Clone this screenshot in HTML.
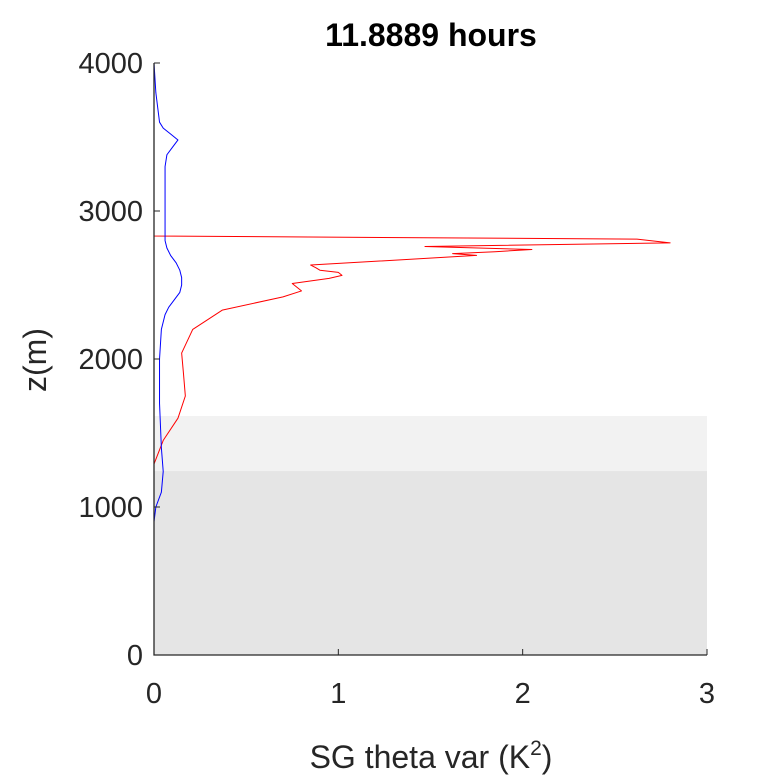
<!DOCTYPE html>
<html><head><meta charset="utf-8"><style>body{margin:0;background:#fff}svg{display:block}</style></head><body>
<svg width="781" height="781" xmlns="http://www.w3.org/2000/svg" font-family="Liberation Sans, sans-serif">
<g id="plot"></g>
<script>
const xTicks=[0,1,2,3];
const yTicks=[0,1000,2000,3000,4000];
const redZ=[0,1290,1450,1600,1750,1900,2040,2200,2330,2420,2460,2510,2545,2565,2585,2600,2615,2635,2700,2712,2725,2740,2760,2785,2810,2831,2832,4000];
const redV=[0,0,0.05,0.13,0.17,0.16,0.15,0.21,0.37,0.7,0.8,0.75,0.95,1.02,1.0,0.9,0.88,0.85,1.75,1.62,1.85,2.05,1.47,2.8,2.62,0,0,0];
const blueZ=[0,900,1000,1100,1240,1400,1700,2000,2200,2300,2350,2400,2450,2500,2550,2600,2650,2700,2750,2800,2850,3000,3300,3380,3430,3480,3520,3560,3600,3700,3800,4000];
const blueV=[0,0,0.01,0.04,0.05,0.04,0.03,0.03,0.04,0.06,0.08,0.11,0.14,0.15,0.15,0.14,0.12,0.09,0.07,0.06,0.06,0.06,0.06,0.07,0.1,0.13,0.09,0.05,0.03,0.02,0.01,0];
const bandLight=[1243,1615];
const bandDark=[0,1243];
const X=v=>154+v*184.33, Y=z=>655-z*0.148;
const NS='http://www.w3.org/2000/svg';
const g=document.getElementById('plot');
function mk(t,a,p){const e=document.createElementNS(NS,t);for(const k in a)e.setAttribute(k,a[k]);(p||g).appendChild(e);return e;}
let r=mk('rect',{x:X(0),y:Y(bandLight[1]),width:X(3)-X(0),height:Y(bandLight[0])-Y(bandLight[1]),fill:'#f2f2f2'});

r=mk('rect',{x:X(0),y:Y(bandDark[1]),width:X(3)-X(0),height:Y(bandDark[0])-Y(bandDark[1]),fill:'#e5e5e5'});

let p=mk('polyline',{points:redZ.map((z,i)=>X(redV[i])+','+Y(z)).join(' '),fill:'none',stroke:'#ff0000','stroke-width':1,'stroke-linejoin':'round'});

p=mk('polyline',{points:blueZ.map((z,i)=>X(blueV[i])+','+Y(z)).join(' '),fill:'none',stroke:'#0000ff','stroke-width':1,'stroke-linejoin':'round'});

let a=mk('path',{d:`M${X(0)},${Y(4000)}V${Y(0)}H${X(3)}`,fill:'none',stroke:'#262626','stroke-width':1.3});

xTicks.forEach(v=>{let t=mk('line',{x1:X(v),x2:X(v),y1:Y(0),y2:Y(0)-6,stroke:'#262626'});

let l=mk('text',{x:X(v),y:703,'font-size':29,'text-anchor':'middle',fill:'#262626'});l.textContent=v;
});
yTicks.forEach(v=>{let t=mk('line',{x1:X(0),x2:X(0)+6,y1:Y(v),y2:Y(v),stroke:'#262626'});

let l=mk('text',{x:143,y:Y(v)+10,'font-size':29,'text-anchor':'end',fill:'#262626'});l.textContent=v;
});
</script>
<text x="431" y="46" font-size="32" font-weight="bold" text-anchor="middle">11.8889 hours</text>
<text x="431" y="768" font-size="32" text-anchor="middle" fill="#262626">SG theta var (K<tspan dy="-13" font-size="21">2</tspan><tspan dy="13">)</tspan></text>
<text transform="translate(46,360) rotate(-90)" font-size="32" text-anchor="middle" fill="#262626">z(m)</text>
</svg>
</body></html>
